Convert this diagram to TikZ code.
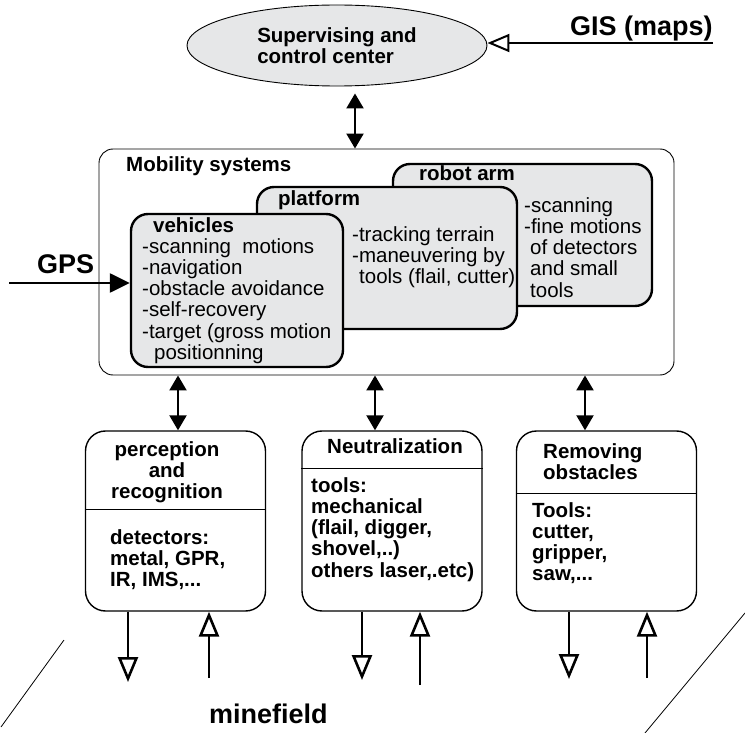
\documentclass[tikz,border=0pt]{standalone}
\usepackage{fontspec}
\setmainfont{Liberation Sans}
\usetikzlibrary{arrows.meta,shapes.geometric}
\definecolor{boxgray}{RGB}{230,231,232}

\begin{document}
\begin{tikzpicture}[x=1pt, y=-1pt,
    lbl/.style={font=\bfseries\fontsize{20.5}{21.3}\selectfont, inner sep=0pt},
    txt/.style={font=\fontsize{20.5}{21.3}\selectfont, inner sep=0pt, align=left, anchor=base west},
    bigl/.style={font=\bfseries\fontsize{27}{30}\selectfont, inner sep=0pt, anchor=base west},
    frame/.style={draw, rounded corners=14pt, line width=0.9pt, inner sep=0pt},
    card/.style={draw, fill=boxgray, rounded corners=17pt, line width=2.4pt, inner sep=0pt},
    unit/.style={draw, rounded corners=20pt, line width=1.4pt, inner sep=0pt, minimum width=180pt, minimum height=180pt},
    link/.style={{Triangle[length=15pt,width=17pt]}-{Triangle[length=15pt,width=17pt]}, line width=2.2pt},
    flow/.style={-{Triangle[open,length=25pt,width=20pt]}, line width=2.6pt}]
    \useasboundingbox (0,0) rectangle (745,733);

    % supervising centre and maps
    \node(ctrl)[draw, ellipse, fill=boxgray, line width=0.9pt, minimum width=300pt, minimum height=81pt, lbl, align=left] at (337,45.5) {Supervising and\\control center};
    \node(gis)[bigl] at (570,36) {GIS (maps)};
    \coordinate (gisin) at (713,43);
    \draw[-{Triangle[open,length=22pt,width=18pt]}, line width=2pt] (gisin) -- (gisin -| ctrl.east);

    % mobility systems (multi-line texts sit on their last baseline)
    \node(mob)[frame, minimum width=575pt, minimum height=226pt] at (386.5,262) {};
    \node(mobt)[lbl, anchor=base west] at (126,172) {Mobility systems};

    \node(arm)[card, minimum width=259pt, minimum height=142pt] at (522.5,235) {};
    \node(armt)[lbl, anchor=base west] at (419,181) {robot arm};
    \node(armb)[txt] at (524,297.2) {-scanning\\-fine motions\\\hspace*{6pt}of detectors\\\hspace*{6pt}and small\\\hspace*{6pt}tools};

    \node(plat)[card, minimum width=260pt, minimum height=142pt] at (387,258) {};
    \node(platt)[lbl, anchor=base west] at (278,206) {platform};
    \node(platb)[txt] at (352,283.6) {-tracking terrain\\-maneuvering by\\\hspace*{7pt}tools (flail, cutter)};

    \node(veh)[card, minimum width=212pt, minimum height=153pt] at (237,290.5) {};
    \node(veht)[lbl, anchor=base west] at (153,233) {vehicles};
    \node(vehb)[txt] at (142,359.5) {-scanning~ motions\\-navigation\\-obstacle avoidance\\-self-recovery\\-target (gross motion\\\hspace*{12pt}positionning};

    \node(gps)[bigl] at (37,273) {GPS};
    \coordinate (gpsin) at (9,283);
    \draw[-{Triangle[length=20pt,width=19pt]}, line width=2.5pt] (gpsin) -- (gpsin -| veh.west);

    \coordinate (s0) at (355,0);
    \draw[link, shorten <=7pt] (s0 |- ctrl.south) -- (s0 |- mob.north);

    % the three units
    \node(perc)[unit] at (175.5,521) {};
    \node(neut)[unit] at (392,521) {};
    \node(remv)[unit] at (606.5,521) {};
    \draw[line width=1pt] ([yshift=-79pt]perc.north west) -- ([yshift=-79pt]perc.north east);
    \draw[line width=1pt] ([yshift=-38pt]neut.north west) -- ([yshift=-38pt]neut.north east);
    \draw[line width=1pt] ([yshift=-63pt]remv.north west) -- ([yshift=-63pt]remv.north east);

    \node(perct)[lbl, align=center, anchor=base] at (167,498.6) {perception\\and\\recognition};
    \node(percb)[lbl, align=left, anchor=base west] at (110,586.6) {detectors:\\metal, GPR,\\IR, IMS,...};
    \node(neutt)[lbl, anchor=base] at (395,453) {Neutralization};
    \node(neutb)[lbl, align=left, anchor=base west] at (311,577.2) {tools:\\mechanical\\(flail, digger,\\shovel,..)\\others laser,.etc)};
    \node(remvt)[lbl, align=left, anchor=base west] at (543,479.3) {Removing\\obstacles};
    \node(remvb)[lbl, align=left, anchor=base west] at (532,580.9) {Tools:\\cutter,\\gripper,\\saw,...};

    \coordinate (s1) at (178,0);
    \coordinate (s2) at (375,0);
    \coordinate (s3) at (585,0);
    \draw[link] (s1 |- mob.south) -- (s1 |- perc.north);
    \draw[link] (s2 |- mob.south) -- (s2 |- neut.north);
    \draw[link] (s3 |- mob.south) -- (s3 |- remv.north);

    % minefield
    \coordinate (p1) at (128,682);
    \coordinate (p2) at (209,678);
    \coordinate (n1) at (362,680);
    \coordinate (n2) at (420,685);
    \coordinate (r1) at (569,679);
    \coordinate (r2) at (647,678);
    \draw[flow] (p1 |- perc.south) -- (p1);
    \draw[flow] (p2) -- (p2 |- perc.south);
    \draw[flow] (n1 |- neut.south) -- (n1);
    \draw[flow] (n2) -- (n2 |- neut.south);
    \draw[flow] (r1 |- remv.south) -- (r1);
    \draw[flow] (r2) -- (r2 |- remv.south);

    \node(mine)[bigl] at (209,723) {minefield};
    \draw[line width=0.8pt] (64,640) -- (1,727);
    \draw[line width=0.8pt] (745,613) -- (645,733);
\end{tikzpicture}
\end{document}
